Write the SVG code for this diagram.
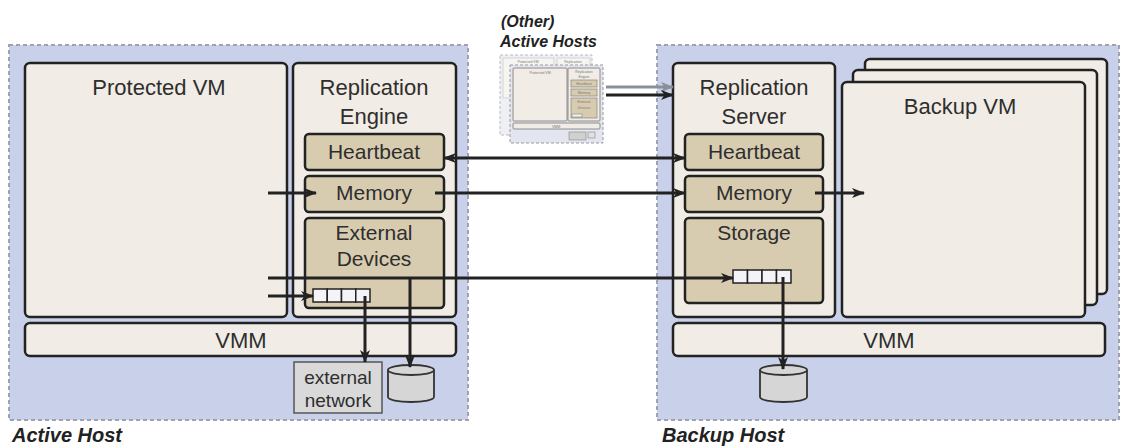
<svg xmlns="http://www.w3.org/2000/svg" width="1122" height="448" viewBox="0 0 1122 448">
<defs>
<style>
.host{fill:#c9d1ea;stroke:#a0a2b0;stroke-width:2;stroke-dasharray:4,3}
.box{fill:#f1ece5;stroke:#222;stroke-width:2.5}
.sub{fill:#d8ccb0;stroke:#222;stroke-width:2.5}
.q{fill:#f4f4f8;stroke:#222;stroke-width:1.5}
.cyl{fill:#d6d6d6;stroke:#333;stroke-width:1.8}
.t{font-family:"Liberation Sans",Arial,sans-serif;fill:#2e2e2e;text-anchor:middle}
.lbl{font-family:"Liberation Sans",Arial,sans-serif;font-weight:bold;font-style:italic;fill:#222}
.c{fill:none;stroke:#222;stroke-width:3}
.tiny{font-family:"Liberation Sans",Arial,sans-serif;fill:#777;text-anchor:middle;font-size:3.5px}
</style>
<marker id="ah" viewBox="0 0 13 10" refX="12" refY="5" markerWidth="13" markerHeight="10" markerUnits="userSpaceOnUse" orient="auto-start-reverse">
<path d="M0,0 L13,5 L0,10 L3.5,5 z" fill="#222"/>
</marker>
<marker id="ahg" viewBox="0 0 13 10" refX="12" refY="5" markerWidth="13" markerHeight="10" markerUnits="userSpaceOnUse" orient="auto">
<path d="M0,0 L13,5 L0,10 L3.5,5 z" fill="#8a8f9a"/>
</marker>
</defs>
<rect width="1122" height="448" fill="#fff"/>

<g id="active-host">
<rect class="host" x="9" y="45" width="459" height="375"/>
<text class="lbl" x="12" y="442" font-size="20">Active Host</text>
</g>
<g id="protected-vm">
<rect class="box" x="25" y="63" width="262" height="254" rx="5"/>
<text class="t" x="159" y="95" font-size="22">Protected VM</text>
</g>
<g id="replication-engine">
<rect class="box" x="293" y="63" width="163" height="254" rx="5"/>
<text class="t" x="374" y="95" font-size="22">Replication</text>
<text class="t" x="374" y="124" font-size="22">Engine</text>
</g>
<g id="ae-heartbeat">
<rect class="sub" x="305" y="134" width="139" height="36" rx="4"/>
<text class="t" x="374" y="159" font-size="21">Heartbeat</text>
</g>
<g id="ae-memory">
<rect class="sub" x="305" y="176" width="139" height="36" rx="4"/>
<text class="t" x="374" y="200" font-size="21">Memory</text>
</g>
<g id="ae-external-devices">
<rect class="sub" x="305" y="218" width="139" height="90" rx="4"/>
<text class="t" x="374" y="240" font-size="21">External</text>
<text class="t" x="374" y="266" font-size="21">Devices</text>
<rect class="q" x="313" y="289" width="14.25" height="13"/>
<rect class="q" x="327.25" y="289" width="14.25" height="13"/>
<rect class="q" x="341.5" y="289" width="14.25" height="13"/>
<rect class="q" x="355.75" y="289" width="14.25" height="13"/>
</g>
<g id="active-vmm">
<rect class="box" x="25" y="323" width="431" height="33" rx="5"/>
<text class="t" x="241" y="348" font-size="22">VMM</text>
</g>
<g id="external-network">
<rect x="294" y="362" width="88" height="51" fill="#d9d9d9" stroke="#555" stroke-width="1.5"/>
<text class="t" x="338" y="384" font-size="19">external</text>
<text class="t" x="338" y="407" font-size="19">network</text>
</g>
<g id="active-disk">
<path class="cyl" d="M388,370 L388,397 A23,5 0 0 0 434,397 L434,370"/>
<ellipse class="cyl" cx="411" cy="370" rx="23" ry="5"/>
</g>

<g id="other-hosts">
<text class="lbl" x="501" y="27" font-size="16">(Other)</text>
<text class="lbl" x="500" y="47" font-size="16">Active Hosts</text>
<rect x="500" y="55" width="92" height="80" fill="#eef0f6" stroke="#bbb" stroke-width="1" stroke-dasharray="3,2"/>
<rect x="503" y="58" width="51" height="40" fill="#f7f5f2" stroke="#ccc" stroke-width="0.8"/>
<rect x="557" y="58" width="33" height="40" fill="#f7f5f2" stroke="#ccc" stroke-width="0.8"/>
<text class="tiny" x="528" y="63" fill="#bbb">Protected VM</text>
<text class="tiny" x="573" y="63" fill="#bbb">Replication</text>
<rect x="510" y="65" width="93" height="78" fill="#e3e6f1" stroke="#999" stroke-width="1" stroke-dasharray="3,2"/>
<rect x="513" y="68" width="54" height="53" fill="#f1ece5" stroke="#777" stroke-width="0.8" rx="1"/>
<text class="tiny" x="540" y="74">Protected VM</text>
<rect x="568" y="68" width="32" height="53" fill="#f1ece5" stroke="#777" stroke-width="0.8" rx="1"/>
<text class="tiny" x="584" y="73">Replication</text>
<text class="tiny" x="584" y="78">Engine</text>
<rect x="571" y="80" width="26" height="7" fill="#d8ccb0" stroke="#777" stroke-width="0.6"/>
<text class="tiny" x="584" y="85">Heartbeat</text>
<rect x="571" y="89" width="26" height="7" fill="#d8ccb0" stroke="#777" stroke-width="0.6"/>
<text class="tiny" x="584" y="94">Memory</text>
<rect x="571" y="98" width="26" height="20" fill="#d8ccb0" stroke="#777" stroke-width="0.6"/>
<text class="tiny" x="584" y="103">External</text>
<text class="tiny" x="584" y="109">Devices</text>
<rect x="572" y="114" width="10" height="3" fill="#eee" stroke="#777" stroke-width="0.5"/>
<rect x="513" y="123" width="87" height="6" fill="#f1ece5" stroke="#777" stroke-width="0.8" rx="1"/>
<text class="tiny" x="556" y="128">VMM</text>
<rect x="569" y="132" width="17" height="8" fill="#d0d0d0" stroke="#888" stroke-width="0.6"/>
<rect x="588" y="132" width="7" height="6" fill="#e0e0e0" stroke="#888" stroke-width="0.6"/>
</g>

<g id="backup-host">
<rect class="host" x="657" y="45" width="462" height="375"/>
<text class="lbl" x="662" y="442" font-size="20">Backup Host</text>
</g>
<g id="replication-server">
<rect class="box" x="673" y="63" width="162" height="254" rx="5"/>
<text class="t" x="754" y="95" font-size="22">Replication</text>
<text class="t" x="754" y="124" font-size="22">Server</text>
</g>
<g id="rs-heartbeat">
<rect class="sub" x="685" y="134" width="138" height="36" rx="4"/>
<text class="t" x="754" y="159" font-size="21">Heartbeat</text>
</g>
<g id="rs-memory">
<rect class="sub" x="685" y="176" width="138" height="36" rx="4"/>
<text class="t" x="754" y="200" font-size="21">Memory</text>
</g>
<g id="rs-storage">
<rect class="sub" x="685" y="218" width="138" height="85" rx="4"/>
<text class="t" x="754" y="240" font-size="21">Storage</text>
<rect class="q" x="733" y="270" width="14.5" height="13"/>
<rect class="q" x="747.5" y="270" width="14.5" height="13"/>
<rect class="q" x="762" y="270" width="14.5" height="13"/>
<rect class="q" x="776.5" y="270" width="14.5" height="13"/>
</g>
<g id="backup-vm">
<rect class="box" x="865" y="59" width="242" height="235" rx="5"/>
<rect class="box" x="853" y="70" width="244" height="235" rx="5"/>
<rect class="box" x="842" y="82" width="243" height="235" rx="5"/>
<text class="t" x="960" y="114" font-size="22">Backup VM</text>
</g>
<g id="backup-vmm">
<rect class="box" x="673" y="323" width="432" height="33" rx="5"/>
<text class="t" x="889" y="348" font-size="22">VMM</text>
</g>
<g id="backup-disk">
<path class="cyl" d="M760,370 L760,397 A23.5,5 0 0 0 807,397 L807,370"/>
<ellipse class="cyl" cx="783.5" cy="370" rx="23.5" ry="5"/>
</g>

<g id="connectors">
<line x1="606" y1="87" x2="673" y2="87" fill="none" stroke="#8a8f9a" stroke-width="3" marker-end="url(#ahg)"/>
<line class="c" x1="606" y1="95" x2="673" y2="95" stroke-width="3.5" marker-end="url(#ah)"/>
<line class="c" x1="444" y1="158" x2="685" y2="158" marker-start="url(#ah)" marker-end="url(#ah)"/>
<line class="c" x1="268" y1="193" x2="316" y2="193" marker-end="url(#ah)"/>
<line class="c" x1="435" y1="193" x2="685" y2="193" marker-end="url(#ah)"/>
<line class="c" x1="815" y1="193" x2="864" y2="193" marker-end="url(#ah)"/>
<line class="c" x1="268" y1="278" x2="733" y2="278" marker-end="url(#ah)"/>
<line class="c" x1="268" y1="296" x2="313" y2="296" marker-end="url(#ah)"/>
<line class="c" x1="365" y1="296" x2="365" y2="362" marker-end="url(#ah)"/>
<line class="c" x1="410" y1="278" x2="410" y2="367" marker-end="url(#ah)"/>
<line class="c" x1="783" y1="277" x2="783" y2="369" marker-end="url(#ah)"/>
</g>
</svg>
